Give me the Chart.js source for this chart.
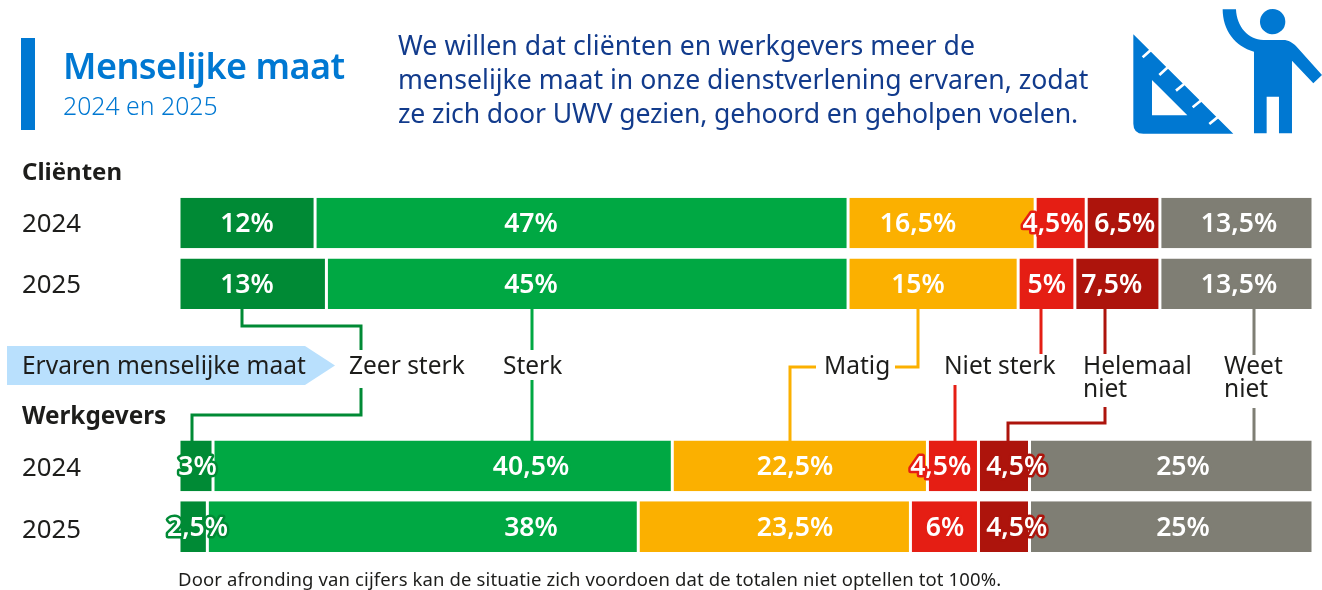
<!DOCTYPE html>
<html lang="nl">
<head>
<meta charset="utf-8">
<title>Menselijke maat</title>
<script src="https://cdn.jsdelivr.net/npm/chart.js@4"></script>
<style>
html,body{margin:0;padding:0;background:#fff;}
#stage{position:relative;width:1322px;height:590px;overflow:hidden;font-family:"Noto Sans",sans-serif;}
canvas{position:absolute;left:0;top:0;}
svg{position:absolute;left:0;top:0;}
.t{position:absolute;white-space:nowrap;color:#1d1d1b;font-size:24.5px;line-height:24px;}
</style>
</head>
<body>
<div id="stage">
<canvas id="c" width="1322" height="590"></canvas>
<svg width="1322" height="590" viewBox="0 0 1322 590" fill="none">
  <rect x="21" y="38" width="14" height="92" fill="#0078d2"/>
  <path d="M7 346H305L335 365.5L305 385H7Z" fill="#b9e0fd"/>
  <g stroke-width="3" fill="none">
    <path d="M242 309V326H361V350M361 388V415H192V441" stroke="#008a35"/>
    <path d="M532 309V350M532 380V441" stroke="#00a843"/>
    <path d="M918 309V367H895M816 367H790V441" stroke="#fbb000"/>
    <path d="M1041 309V354M955 385V441" stroke="#e51e14"/>
    <path d="M1105 309V354M1105 407V423H1008V441" stroke="#ad140c"/>
    <path d="M1254 309V355M1254 408V441" stroke="#7f7e74"/>
  </g>
  <g transform="translate(1100 0) scale(0.3333)">
    <path fill="#0078d2" fill-rule="evenodd" d="M100 103L400 401H130Q100 401 100 371ZM156 240V346H262Z"/>
    <g stroke="#fff" stroke-width="8">
      <path d="M155 148L128 172M205 200L178 225M255 250L228 272M305 300L278 322M355 350L328 372"/>
    </g>
    <circle cx="518" cy="65" r="38" fill="#0078d2"/>
    <path fill="#0078d2" d="M368 28H408C410 80 445 120 490 120H550C565 120 578 128 588 138L666 225L640 250L576 182V400H537V290H500V400H462V155C405 140 368 90 368 28Z"/>
  </g>
</svg>
<div class="t" style="left:63px;top:44px;font-size:36px;line-height:44px;font-weight:600;color:#0078d2;letter-spacing:-.55px" id="title">Menselijke maat</div>
<div class="t" style="left:63px;top:90px;font-size:24.8px;line-height:30px;font-weight:300;color:#0078d2">2024 en 2025</div>
<div class="t" style="left:398px;top:28px;font-size:26.6px;line-height:34px;color:#123b8c;letter-spacing:.09px">We willen dat cliënten en werkgevers meer de</div>
<div class="t" style="left:398px;top:62px;font-size:26.6px;line-height:34px;color:#123b8c">menselijke maat in onze dienstverlening ervaren, zodat</div>
<div class="t" style="left:398px;top:96px;font-size:26.6px;line-height:34px;color:#123b8c;letter-spacing:-.13px">ze zich door UWV gezien, gehoord en geholpen voelen.</div>
<div class="t" style="left:22px;top:159px;font-size:24px;font-weight:700;">Cliënten</div>
<div class="t" style="left:22px;top:403px;font-size:24.3px;font-weight:700;">Werkgevers</div>
<div class="t" style="left:22px;top:353px;">Ervaren menselijke maat</div>
<div class="t" style="left:349px;top:353px;">Zeer sterk</div>
<div class="t" style="left:503px;top:353px;">Sterk</div>
<div class="t" style="left:824px;top:353px;">Matig</div>
<div class="t" style="left:944px;top:353px;">Niet sterk</div>
<div class="t" style="left:1083px;top:353px;">Helemaal</div>
<div class="t" style="left:1083px;top:376px;">niet</div>
<div class="t" style="left:1224px;top:353px;">Weet</div>
<div class="t" style="left:1224px;top:376px;">niet</div>
<div class="t" style="left:178px;top:568px;font-size:18.5px;line-height:22px;letter-spacing:.12px">Door afronding van cijfers kan de situatie zich voordoen dat de totalen niet optellen tot 100%.</div>
</div>
<script>
// Rows: two client years, two empty rows for the legend band, two employer years
const categories = ['2024', '2025', '', '', '2024', '2025'];

// Bar lengths
const zeerSterk    = [12, 13, null, null, 3, 2.5];
const sterk        = [47, 46, null, null, 40.5, 38];
const matig        = [16.5, 15, null, null, 22.5, 24];
const nietSterk    = [4.5, 5, null, null, 4.5, 6];
const helemaalNiet = [6.5, 7.5, null, null, 4.5, 4.5];
const weetNiet     = [13.5, 13.5, null, null, 25, 25];

// Numbers as printed on the bars (rounded, so they can differ from the lengths)
const printedZeerSterk    = [12, 13, null, null, 3, 2.5];
const printedSterk        = [47, 45, null, null, 40.5, 38];
const printedMatig        = [16.5, 15, null, null, 22.5, 23.5];
const printedNietSterk    = [4.5, 5, null, null, 4.5, 6];
const printedHelemaalNiet = [6.5, 7.5, null, null, 4.5, 4.5];
const printedWeetNiet     = [13.5, 13.5, null, null, 25, 25];

const seriesNames = ['Zeer sterk', 'Sterk', 'Matig', 'Niet sterk', 'Helemaal niet', 'Weet niet'];
const seriesColors = ['#008a35', '#00a843', '#fbb000', '#e51e14', '#ad140c', '#7f7e74'];

const seriesValues = [zeerSterk, sterk, matig, nietSterk, helemaalNiet, weetNiet];
const seriesPrinted = [printedZeerSterk, printedSterk, printedMatig, printedNietSterk, printedHelemaalNiet, printedWeetNiet];

// Horizontal centre of each printed label, in pixels, per series and row
const labelCentres = [
  [247, 247, 0, 0, 197.5, 197.5],
  [531, 531, 0, 0, 531, 531],
  [918, 918, 0, 0, 795, 795],
  [1053, 1046.7, 0, 0, 940.7, 945],
  [1124.7, 1111.7, 0, 0, 1016.7, 1016.7],
  [1239, 1239, 0, 0, 1183, 1183]
];
// Small vertical nudge of the year labels relative to their row
const yearNudge = [2, 2, 0, 0, 3, 4];

const barLabels = {
  id: 'barLabels',
  afterDatasetsDraw(chart) {
    const ctx = chart.ctx;
    ctx.save();
    ctx.textBaseline = 'middle';
    ctx.lineJoin = 'round';

    // Year labels, placed by the category scale
    const yScale = chart.scales.y;
    ctx.font = '25.8px "Noto Sans", sans-serif';
    ctx.textAlign = 'left';
    ctx.fillStyle = '#1d1d1b';
    yScale.ticks.forEach((tick, i) => {
      const label = categories[i];
      if (label) ctx.fillText(label, 22, yScale.getPixelForTick(i) + yearNudge[i]);
    });

    // Percentages on the bars
    ctx.font = '600 26.6px "Noto Sans", sans-serif';
    ctx.textAlign = 'center';
    chart.data.datasets.forEach((ds, s) => {
      chart.getDatasetMeta(s).data.forEach((bar, i) => {
        const v = seriesPrinted[s][i];
        if (v === null) return;
        const text = String(v).replace('.', ',') + '%';
        const x = labelCentres[s][i], y = bar.y + 1.5;
        ctx.lineWidth = 5;
        ctx.strokeStyle = seriesColors[s];
        ctx.strokeText(text, x, y);
        ctx.fillStyle = '#ffffff';
        ctx.fillText(text, x, y);
      });
    });
    ctx.restore();
  }
};

new Chart(document.getElementById('c'), {
  type: 'bar',
  data: {
    labels: categories,
    datasets: seriesValues.map((values, s) => ({
      label: seriesNames[s],
      data: values,
      backgroundColor: seriesColors[s],
      borderColor: '#ffffff',
      borderWidth: { left: 1.5, right: 1.5, top: 0, bottom: 0 },
      borderSkipped: false,
      categoryPercentage: 1,
      barPercentage: 0.835
    }))
  },
  options: {
    indexAxis: 'y',
    responsive: false,
    animation: false,
    devicePixelRatio: 1,
    layout: { padding: { left: 22, right: 9, top: 192.65, bottom: 33 } },
    plugins: { legend: { display: false }, tooltip: { enabled: false } },
    scales: {
      x: { stacked: true, min: 0, max: 100, display: false },
      y: {
        stacked: true,
        grid: { display: false },
        border: { display: false },
        afterFit(scale) { scale.width = 157; },
        ticks: { display: false, autoSkip: false }
      }
    }
  },
  plugins: [barLabels]
});
</script>
</body>
</html>
